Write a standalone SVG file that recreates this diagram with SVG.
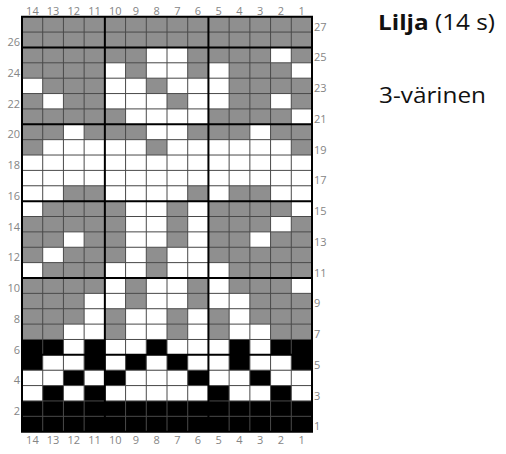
<svg xmlns="http://www.w3.org/2000/svg" width="506" height="454" viewBox="0 0 506 454">
<style>
.g{fill:#8f8f8f}.w{fill:#fff}.b{fill:#000}
.thin{stroke:#4a4a4a;stroke-width:1;fill:none}
.thick{stroke:#000;stroke-width:2;fill:none}
.lbl{font-family:"Open Sans","Liberation Sans",sans-serif;font-size:11px;fill:#858585}
.t{font-family:"Open Sans","Liberation Sans",sans-serif;font-size:21px;fill:#111}
</style>
<rect width="506" height="454" fill="#fff"/>
<g id="chart">
<g transform="translate(22,16.7) scale(20.714,15.37)">
<rect class="g" x="0" y="0" width="14" height="21"/>
<rect class="b" x="0" y="21" width="14" height="6"/>
<g class="w">
<rect x="6" y="2" width="2" height="1"/><rect x="12" y="2" width="1" height="1"/>
<rect x="4" y="3" width="1" height="1"/><rect x="6" y="3" width="2" height="1"/><rect x="9" y="3" width="1" height="1"/><rect x="13" y="3" width="1" height="1"/>
<rect x="0" y="4" width="1" height="1"/><rect x="4" y="4" width="2" height="1"/><rect x="7" y="4" width="3" height="1"/>
<rect x="1" y="5" width="1" height="1"/><rect x="4" y="5" width="3" height="1"/><rect x="8" y="5" width="2" height="1"/><rect x="12" y="5" width="1" height="1"/>
<rect x="5" y="6" width="4" height="1"/><rect x="13" y="6" width="1" height="1"/>
<rect x="2" y="7" width="1" height="1"/><rect x="6" y="7" width="2" height="1"/><rect x="11" y="7" width="1" height="1"/>
<rect x="1" y="8" width="5" height="1"/><rect x="7" y="8" width="6" height="1"/>
<rect x="0" y="9" width="14" height="2"/>
<rect x="0" y="11" width="2" height="1"/><rect x="4" y="11" width="4" height="1"/><rect x="9" y="11" width="1" height="1"/><rect x="12" y="11" width="2" height="1"/>
<rect x="0" y="12" width="1" height="1"/><rect x="5" y="12" width="2" height="1"/><rect x="8" y="12" width="1" height="1"/><rect x="13" y="12" width="1" height="1"/>
<rect x="5" y="13" width="2" height="1"/><rect x="8" y="13" width="1" height="1"/><rect x="12" y="13" width="1" height="1"/>
<rect x="2" y="14" width="1" height="1"/><rect x="5" y="14" width="2" height="1"/><rect x="8" y="14" width="1" height="1"/><rect x="11" y="14" width="1" height="1"/>
<rect x="1" y="15" width="1" height="1"/><rect x="5" y="15" width="1" height="1"/><rect x="7" y="15" width="2" height="1"/>
<rect x="0" y="16" width="1" height="1"/><rect x="4" y="16" width="2" height="1"/><rect x="7" y="16" width="3" height="1"/>
<rect x="4" y="17" width="1" height="1"/><rect x="6" y="17" width="2" height="1"/><rect x="9" y="17" width="1" height="1"/><rect x="13" y="17" width="1" height="1"/>
<rect x="3" y="18" width="2" height="1"/><rect x="6" y="18" width="2" height="1"/><rect x="9" y="18" width="2" height="1"/>
<rect x="3" y="19" width="1" height="1"/><rect x="5" y="19" width="2" height="1"/><rect x="8" y="19" width="1" height="1"/><rect x="10" y="19" width="1" height="1"/>
<rect x="2" y="20" width="2" height="1"/><rect x="5" y="20" width="2" height="1"/><rect x="8" y="20" width="1" height="1"/><rect x="10" y="20" width="2" height="1"/>
<rect x="2" y="21" width="1" height="1"/><rect x="4" y="21" width="2" height="1"/><rect x="7" y="21" width="3" height="1"/><rect x="11" y="21" width="1" height="1"/>
<rect x="1" y="22" width="2" height="1"/><rect x="4" y="22" width="1" height="1"/><rect x="6" y="22" width="1" height="1"/><rect x="8" y="22" width="2" height="1"/><rect x="11" y="22" width="2" height="1"/>
<rect x="0" y="23" width="2" height="1"/><rect x="3" y="23" width="1" height="1"/><rect x="5" y="23" width="3" height="1"/><rect x="9" y="23" width="2" height="1"/><rect x="12" y="23" width="2" height="1"/>
<rect x="0" y="24" width="1" height="1"/><rect x="2" y="24" width="1" height="1"/><rect x="4" y="24" width="5" height="1"/><rect x="10" y="24" width="2" height="1"/><rect x="13" y="24" width="1" height="1"/>
</g>
</g>
<g id="gridlines">
<path class="thin" d="M42.71 16.7V431.69M63.43 16.7V431.69M84.14 16.7V431.69M125.57 16.7V431.69M146.29 16.7V431.69M167 16.7V431.69M187.71 16.7V431.69M229.14 16.7V431.69M249.86 16.7V431.69M270.57 16.7V431.69M291.29 16.7V431.69
M22 32.07H312M22 62.81H312M22 78.18H312M22 93.55H312M22 108.92H312M22 139.66H312M22 155.03H312M22 170.4H312M22 185.77H312M22 216.51H312M22 231.88H312M22 247.25H312M22 262.62H312M22 293.36H312M22 308.73H312M22 324.1H312M22 339.47H312M22 370.21H312M22 385.58H312M22 400.95H312M22 416.32H312"/>
<path class="thick" d="M104.86 16.7V431.69M208.43 16.7V431.69M22 47.44H312M22 124.29H312M22 201.14H312M22 277.99H312M22 354.84H312M22 16.7H312V431.69H22Z"/>
</g>
</g>
<g id="col-labels" class="lbl" text-anchor="middle">
<text x="32.4" y="15">14</text><text x="53.1" y="15">13</text><text x="73.8" y="15">12</text><text x="94.5" y="15">11</text><text x="115.2" y="15">10</text><text x="135.9" y="15">9</text><text x="156.6" y="15">8</text><text x="177.3" y="15">7</text><text x="198" y="15">6</text><text x="218.7" y="15">5</text><text x="239.5" y="15">4</text><text x="260.2" y="15">3</text><text x="280.9" y="15">2</text><text x="301.6" y="15">1</text>
<text x="32.4" y="444">14</text><text x="53.1" y="444">13</text><text x="73.8" y="444">12</text><text x="94.5" y="444">11</text><text x="115.2" y="444">10</text><text x="135.9" y="444">9</text><text x="156.6" y="444">8</text><text x="177.3" y="444">7</text><text x="198" y="444">6</text><text x="218.7" y="444">5</text><text x="239.5" y="444">4</text><text x="260.2" y="444">3</text><text x="280.9" y="444">2</text><text x="301.6" y="444">1</text>
</g>
<g id="row-labels" class="lbl">
<g text-anchor="end">
<text x="20" y="46">26</text><text x="20" y="76.7">24</text><text x="20" y="107.5">22</text><text x="20" y="138.2">20</text><text x="20" y="169">18</text><text x="20" y="199.7">16</text><text x="20" y="230.5">14</text><text x="20" y="261.2">12</text><text x="20" y="292">10</text><text x="20" y="322.7">8</text><text x="20" y="353.5">6</text><text x="20" y="384.2">4</text><text x="20" y="415">2</text>
</g>
<g text-anchor="start">
<text x="314" y="30.5">27</text><text x="314" y="61.3">25</text><text x="314" y="92">23</text><text x="314" y="122.8">21</text><text x="314" y="153.5">19</text><text x="314" y="184.3">17</text><text x="314" y="215">15</text><text x="314" y="245.8">13</text><text x="314" y="276.5">11</text><text x="314" y="307.3">9</text><text x="314" y="338">7</text><text x="314" y="368.8">5</text><text x="314" y="399.5">3</text><text x="314" y="430.3">1</text>
</g>
</g>
<g id="title">
<text class="t" x="378" y="30" textLength="117" lengthAdjust="spacingAndGlyphs"><tspan font-weight="bold">Lilja</tspan> (14 s)</text>
<text class="t" x="379" y="103" textLength="107" lengthAdjust="spacingAndGlyphs">3-värinen</text>
</g>
</svg>
